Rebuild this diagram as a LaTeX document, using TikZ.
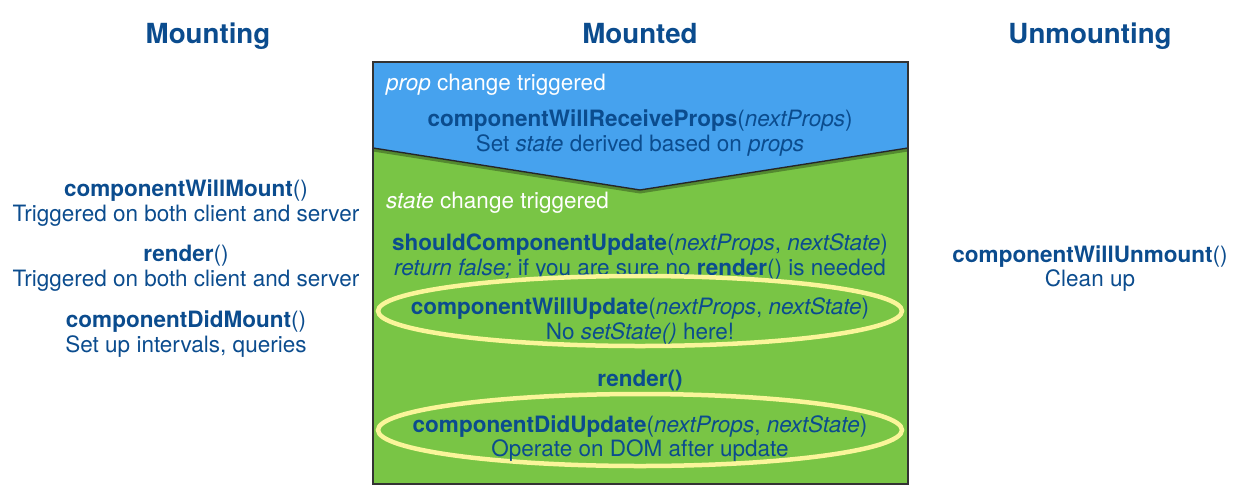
\documentclass[tikz,border=0pt]{standalone}
\usepackage{fontspec}
\setmainfont{TeX Gyre Heros}
\definecolor{txtblue}{HTML}{0B4C8E}
\definecolor{propblue}{HTML}{46A2EE}
\definecolor{stategreen}{HTML}{79C545}
\definecolor{ringyellow}{HTML}{FAF59A}
\begin{document}
\begin{tikzpicture}[x=1pt,y=-1pt,
  lbl/.style={anchor=base,inner sep=0pt,text=txtblue,font=\fontsize{22.5}{25}\selectfont},
  wlbl/.style={anchor=base west,inner sep=0pt,text=white,font=\fontsize{22.5}{25}\selectfont},
  ttl/.style={anchor=base,inner sep=0pt,text=txtblue,font=\fontsize{27.7}{30}\selectfont\bfseries},
  ring/.style={draw=ringyellow,line width=4.5pt}]
\useasboundingbox (0,0) rectangle (1238,493);
% box
\fill[stategreen] (373,62) rectangle (908,484);
\fill[propblue] (373,62) -- (908,62) -- (908,148) -- (640,190) -- (373,148) -- cycle;
\draw[black,opacity=0.3,line width=3pt] (373,150) -- (640,192) -- (908,150);
\draw[black!85,line width=1.4pt] (373,148) -- (640,190) -- (908,148);
\draw[black!80,line width=1.5pt] (373,62) rectangle (908,484);
% titles
\node[ttl] (tmount) at (208,43) {Mounting};
\node[ttl] (tmounted) at (640,43) {Mounted};
\node[ttl] (tunmount) at (1090,43) {Unmounting};
% left
\node[lbl] (cwm) at (186,196) {\textbf{componentWillMount}()};
\node[lbl] (cwmd) at (186,221) {Triggered on both client and server};
\node[lbl] (rend) at (186,261) {\textbf{render}()};
\node[lbl] (rendd) at (186,286) {Triggered on both client and server};
\node[lbl] (cdm) at (186,327) {\textbf{componentDidMount}()};
\node[lbl] (cdmd) at (186,352) {Set up intervals, queries};
% right
\node[lbl] (cwu) at (1090,262) {\textbf{componentWillUnmount}()};
\node[lbl] (cwud) at (1090,286) {Clean up};
% middle
\node[wlbl] (propch) at (386,90) {\textit{prop} change triggered};
\node[lbl] (cwrp) at (640,126) {\textbf{componentWillReceiveProps}(\textit{nextProps})};
\node[lbl] (cwrpd) at (640,151) {Set \textit{state} derived based on \textit{props}};
\node[wlbl] (statech) at (386,208) {\textit{state} change triggered};
\node[lbl] (scu) at (640,250) {\textbf{shouldComponentUpdate}(\textit{nextProps}, \textit{nextState})};
\node[lbl] (scud) at (640,275) {\textit{return false;} if you are sure no \textbf{render}() is needed};
\draw[ring] (640,311) ellipse [x radius=262, y radius=35];
\node[lbl] (cwup) at (640,314) {\textbf{componentWillUpdate}(\textit{nextProps}, \textit{nextState})};
\node[lbl] (cwupd) at (640,339) {No \textit{setState()} here!};
\node[lbl] (rend2) at (640,386) {\textbf{render()}};
\draw[ring] (640,430) ellipse [x radius=262, y radius=36];
\node[lbl] (cdu) at (640,432) {\textbf{componentDidUpdate}(\textit{nextProps}, \textit{nextState})};
\node[lbl] (cdud) at (640,456) {Operate on DOM after update};
\end{tikzpicture}
\end{document}
